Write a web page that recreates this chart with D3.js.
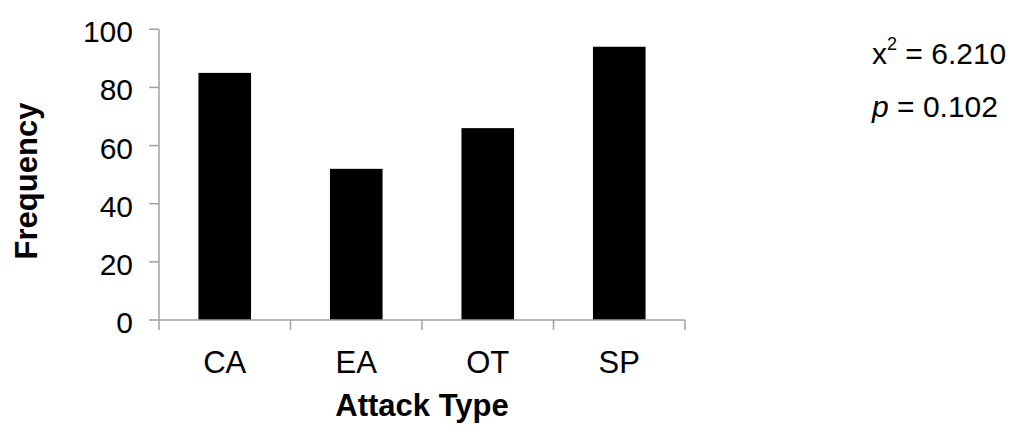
<!DOCTYPE html>
<html>
<head>
<meta charset="utf-8">
<script src="https://cdn.jsdelivr.net/npm/d3@7"></script>
<style>
  html, body { margin: 0; padding: 0; background: #fff; }
  svg { display: block; font-family: "Liberation Sans", Arial, sans-serif; }
</style>
</head>
<body>
<svg id="chart" width="1021" height="427"></svg>
<script>
// Attack type frequencies
const categories = ["CA", "EA", "OT", "SP"];
const frequencies = [85, 52, 66, 94];
const yTicks = [0, 20, 40, 60, 80, 100];
const statLines = [
  { symbol: "x", sup: "2", text: " = 6.210" },
  { symbol: "p", sup: "", text: " = 0.102" }
];

const svg = d3.select("#chart");
const axisColor = "#a0a0a0";

const plot = { left: 159, right: 685, top: 29.3, bottom: 320 };

const x = d3.scaleBand()
  .domain(categories)
  .range([plot.left, plot.right])
  .paddingInner(0.6)
  .paddingOuter(0.3);

const y = d3.scaleLinear()
  .domain([0, 100])
  .range([plot.bottom, plot.top]);

// Bars
svg.append("g")
  .selectAll("rect")
  .data(categories.map((c, i) => ({ c, v: frequencies[i] })))
  .join("rect")
  .attr("x", d => x(d.c))
  .attr("y", d => y(d.v))
  .attr("width", x.bandwidth())
  .attr("height", d => y(0) - y(d.v))
  .attr("fill", "#000");

// Y axis
const yAxis = svg.append("g");
yAxis.append("line")
  .attr("x1", plot.left).attr("x2", plot.left)
  .attr("y1", y(100)).attr("y2", y(0))
  .attr("stroke", axisColor).attr("stroke-width", 1.5);
yAxis.selectAll("line.tick")
  .data(yTicks)
  .join("line")
  .attr("class", "tick")
  .attr("x1", plot.left - 10).attr("x2", plot.left)
  .attr("y1", d => y(d)).attr("y2", d => y(d))
  .attr("stroke", axisColor).attr("stroke-width", 1.5);
yAxis.selectAll("text")
  .data(yTicks)
  .join("text")
  .attr("x", 133)
  .attr("y", d => y(d) + 13)
  .attr("text-anchor", "end")
  .attr("font-size", 30)
  .attr("fill", "#000")
  .text(d => d);

// X axis
const step = x.step();
const boundaries = d3.range(categories.length + 1).map(i => plot.left + i * step);
const xAxis = svg.append("g");
xAxis.append("line")
  .attr("x1", plot.left).attr("x2", plot.right)
  .attr("y1", y(0)).attr("y2", y(0))
  .attr("stroke", axisColor).attr("stroke-width", 1.5);
xAxis.selectAll("line.tick")
  .data(boundaries)
  .join("line")
  .attr("class", "tick")
  .attr("x1", d => d).attr("x2", d => d)
  .attr("y1", y(0)).attr("y2", y(0) + 10)
  .attr("stroke", axisColor).attr("stroke-width", 1.5);
xAxis.selectAll("text")
  .data(categories)
  .join("text")
  .attr("x", d => x(d) + x.bandwidth() / 2)
  .attr("y", 372.5)
  .attr("text-anchor", "middle")
  .attr("font-size", 31)
  .attr("fill", "#000")
  .text(d => d);

// Axis titles
svg.append("text")
  .attr("x", (plot.left + plot.right) / 2)
  .attr("y", 416)
  .attr("text-anchor", "middle")
  .attr("font-size", 31)
  .attr("font-weight", "bold")
  .text("Attack Type");

svg.append("text")
  .attr("transform", "translate(37,181) rotate(-90)")
  .attr("text-anchor", "middle")
  .attr("font-size", 31)
  .attr("font-weight", "bold")
  .text("Frequency");

// Chi-square statistics
const stats = svg.append("g").attr("font-size", 30).attr("fill", "#000");
statLines.forEach((s, i) => {
  const t = stats.append("text")
    .attr("x", 872)
    .attr("y", 64 + i * 53);
  t.append("tspan")
    .attr("font-style", s.symbol === "p" ? "italic" : "normal")
    .text(s.symbol);
  if (s.sup) {
    t.append("tspan")
      .attr("font-size", 18)
      .attr("dy", -14)
      .text(s.sup);
    t.append("tspan").attr("dy", 14).text(s.text);
  } else {
    t.append("tspan").text(s.text);
  }
});
</script>
</body>
</html>
